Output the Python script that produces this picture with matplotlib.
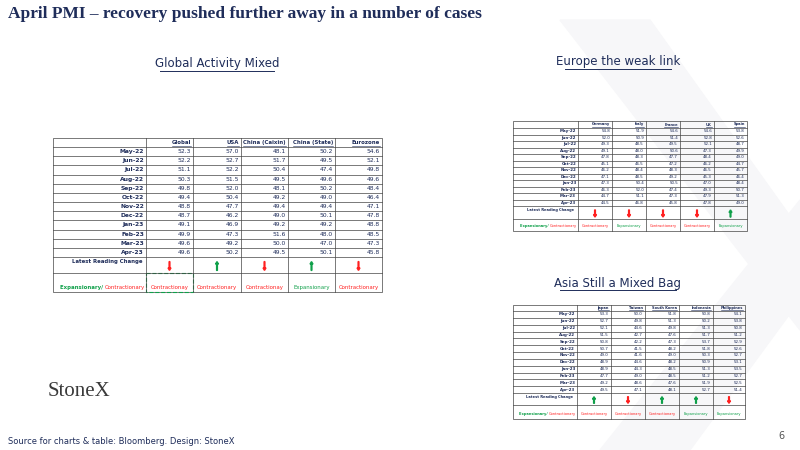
import matplotlib.pyplot as plt
from matplotlib.patches import Rectangle, Polygon, FancyArrow

months = ["May-22", "Jun-22", "Jul-22", "Aug-22", "Sep-22", "Oct-22", "Nov-22",
          "Dec-22", "Jan-23", "Feb-23", "Mar-23", "Apr-23"]

# Global table
global_cols = ["Global", "USA", "China (Caixin)", "China (State)", "Eurozone"]
global_pmi = [52.3, 52.2, 51.1, 50.3, 49.8, 49.4, 48.8, 48.7, 49.1, 49.9, 49.6, 49.6]
usa_pmi = [57.0, 52.7, 52.2, 51.5, 52.0, 50.4, 47.7, 46.2, 46.9, 47.3, 49.2, 50.2]
caixin_pmi = [48.1, 51.7, 50.4, 49.5, 48.1, 49.2, 49.4, 49.0, 49.2, 51.6, 50.0, 49.5]
state_pmi = [50.2, 49.5, 47.4, 49.6, 50.2, 49.0, 49.4, 50.1, 49.2, 48.0, 47.0, 50.1]
eurozone_pmi = [54.6, 52.1, 49.8, 49.6, 48.4, 46.4, 47.1, 47.8, 48.8, 48.5, 47.3, 45.8]
global_arrows = ["down", "up", "down", "up", "down"]
global_status = ["Contractionay", "Contractionary", "Contractionay", "Expansionary", "Contractionary"]

# Europe table
europe_cols = ["Germany", "Italy", "France", "UK", "Spain"]
germany_pmi = [54.8, 52.0, 49.3, 49.1, 47.8, 45.1, 46.2, 47.1, 47.3, 46.3, 44.7, 44.5]
italy_pmi = [51.9, 50.9, 48.5, 48.0, 48.3, 46.5, 48.4, 48.5, 50.4, 52.0, 51.1, 46.8]
france_pmi = [54.6, 51.4, 49.5, 50.6, 47.7, 47.2, 48.3, 49.2, 50.5, 47.4, 47.3, 45.8]
uk_pmi = [54.6, 52.8, 52.1, 47.3, 48.4, 46.2, 46.5, 45.3, 47.0, 49.3, 47.9, 47.8]
spain_pmi = [53.8, 52.6, 48.7, 49.9, 49.0, 44.7, 45.7, 46.4, 48.4, 50.7, 51.3, 49.0]
europe_arrows = ["down", "down", "down", "down", "up"]
europe_status = ["Contractionary", "Expansionary", "Contractionary", "Contractionary", "Expansionary"]

# Asia table
asia_cols = ["Japan", "Taiwan", "South Korea", "Indonesia", "Philippines"]
japan_pmi = [53.3, 52.7, 52.1, 51.5, 50.8, 50.7, 49.0, 48.9, 48.9, 47.7, 49.2, 49.5]
taiwan_pmi = [50.0, 49.8, 44.6, 42.7, 42.2, 41.5, 41.6, 44.6, 44.3, 49.0, 48.6, 47.1]
korea_pmi = [51.8, 51.3, 49.8, 47.6, 47.3, 48.2, 49.0, 48.2, 48.5, 48.5, 47.6, 48.1]
indonesia_pmi = [50.8, 50.2, 51.3, 51.7, 53.7, 51.8, 50.3, 50.9, 51.3, 51.2, 51.9, 52.7]
philippines_pmi = [54.1, 53.8, 50.8, 51.2, 52.9, 52.6, 52.7, 53.1, 53.5, 52.7, 52.5, 51.4]
asia_arrows = ["up", "down", "up", "up", "down"]
asia_status = ["Contractionary", "Contractionary", "Contractionary", "Expansionary", "Expansionary"]

NAVY = "#1f2d5a"
GREEN = "#10a04a"
RED = "#ff2020"

fig = plt.figure(figsize=(8, 4.5), dpi=100)
ax = fig.add_axes([0, 0, 1, 1])
ax.set_xlim(0, 800)
ax.set_ylim(450, 0)
ax.axis("off")
fig.canvas.draw()
renderer = fig.canvas.get_renderer()

# watermark
ax.add_patch(Polygon([(560, 20), (650, 20), (800, 230), (800, 330)], closed=True, color="#f7f7f9", zorder=0))
ax.add_patch(Polygon([(600, 450), (690, 450), (800, 300), (800, 200)], closed=True, color="#f7f7f9", zorder=0))

ax.text(8, 14, "April PMI – recovery pushed further away in a number of cases", fontsize=12.5,
        fontweight="bold", color=NAVY, family="Liberation Serif", va="center")


def text_width(t):
    bb = t.get_window_extent(renderer=renderer)
    return bb.width


def draw_table(xs, ys, cols, series, arrows, status, fs, hfs):
    x0, x1 = xs[0], xs[-1]
    y_top, y_head, y_data, y_latest, y_end = ys
    lw = 0.5
    rh = (y_data - y_head) / len(months)
    ax.add_patch(Rectangle((x0, y_top), x1 - x0, y_end - y_top, fill=False, lw=lw, ec="#444"))
    for x in xs[1:-1]:
        ax.plot([x, x], [y_top, y_end], color="#444", lw=lw)
    for y in [y_head] + [y_head + rh * (i + 1) for i in range(len(months))] + [y_latest]:
        ax.plot([x0, x1], [y, y], color="#444", lw=lw)
    for j, c in enumerate(cols):
        t = ax.text(xs[j + 2] - 2, (y_top + y_head) / 2, c, fontsize=hfs, color=NAVY, fontweight="bold",
                    ha="right", va="center")
        w = text_width(t)
        ax.plot([xs[j + 2] - 2 - w, xs[j + 2] - 2], [y_head - 0.8, y_head - 0.8], color=NAVY, lw=0.4)
    for i, m in enumerate(months):
        yc = y_head + rh * (i + 0.5)
        ax.text(xs[1] - 2, yc, m, fontsize=fs, color=NAVY, fontweight="bold", ha="right", va="center")
        for j, s in enumerate(series):
            ax.text(xs[j + 2] - 2, yc, f"{s[i]:.1f}", fontsize=fs, color=NAVY, ha="right", va="center")
    ax.text(xs[1] - 4, y_data + 2, "Latest Reading Change", fontsize=hfs, color=NAVY,
            fontweight="bold", ha="right", va="top")
    ah = (y_latest - y_data) * 0.55
    for j, a in enumerate(arrows):
        xc = (xs[j + 1] + xs[j + 2]) / 2
        yc = (y_data + y_latest) / 2 + 1
        if a == "up":
            ax.add_patch(FancyArrow(xc, yc + ah / 2, 0, -ah, width=0.8, head_width=3, head_length=2.5,
                                    color=GREEN, length_includes_head=True))
        else:
            ax.add_patch(FancyArrow(xc, yc - ah / 2, 0, ah, width=0.8, head_width=3, head_length=2.5,
                                    color=RED, length_includes_head=True))
    yb = y_end - 2.5
    t = ax.text(xs[1] - 1, yb, "Contractionary", fontsize=hfs, color=RED, ha="right", va="bottom")
    w = text_width(t)
    ax.text(xs[1] - 1 - w, yb, "Expansionary/ ", fontsize=hfs, color=GREEN, fontweight="bold",
            ha="right", va="bottom")
    for j, s in enumerate(status):
        xc = (xs[j + 1] + xs[j + 2]) / 2
        ax.text(xc, yb, s, fontsize=hfs, color=GREEN if s.startswith("Exp") else RED,
                ha="center", va="bottom")


ax.text(217, 64, "Global Activity Mixed", fontsize=8.5, color=NAVY, ha="center", va="center")
ax.plot([160, 274], [71, 71], color=NAVY, lw=0.7)
draw_table([53, 146, 193, 241, 288, 335, 382], [138, 147, 257, 273, 292],
           global_cols, [global_pmi, usa_pmi, caixin_pmi, state_pmi, eurozone_pmi],
           global_arrows, global_status, 4.3, 3.9)
ax.add_patch(Rectangle((146, 273), 47, 19, fill=False, ec=GREEN, lw=0.8, ls="--"))

ax.text(618, 62, "Europe the weak link", fontsize=8.5, color=NAVY, ha="center", va="center")
ax.plot([565, 671], [69, 69], color=NAVY, lw=0.7)
draw_table([513, 578, 612, 646, 680, 714, 747], [121, 128, 206, 219, 231],
           europe_cols, [germany_pmi, italy_pmi, france_pmi, uk_pmi, spain_pmi],
           europe_arrows, europe_status, 2.9, 2.6)

ax.text(618, 283, "Asia Still a Mixed Bag", fontsize=8.5, color=NAVY, ha="center", va="center")
ax.plot([560, 676], [290, 290], color=NAVY, lw=0.7)
draw_table([513, 577, 611, 645, 679, 713, 745], [305, 311, 393, 405, 419],
           asia_cols, [japan_pmi, taiwan_pmi, korea_pmi, indonesia_pmi, philippines_pmi],
           asia_arrows, asia_status, 2.9, 2.6)

ax.text(48, 392, "StoneX", fontsize=15, color="#3a3a3a", family="Liberation Serif", va="center")
ax.text(8, 442, "Source for charts & table: Bloomberg. Design: StoneX", fontsize=6, color=NAVY, va="center")
ax.text(778, 436, "6", fontsize=7, color="#555", va="center")

fig.savefig("out.png", dpi=100)
